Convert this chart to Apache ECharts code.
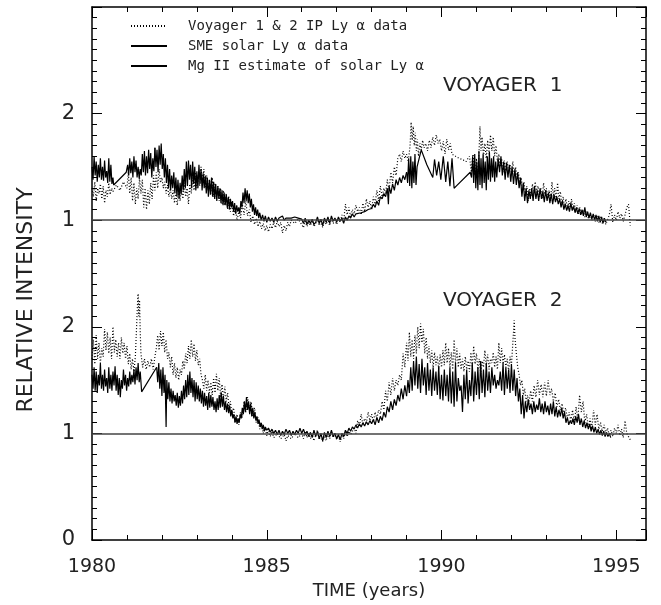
<!DOCTYPE html>
<html><head><meta charset="utf-8">
<script src="https://cdn.jsdelivr.net/npm/echarts@6/dist/echarts.min.js"></script>
<style>html,body{margin:0;padding:0;background:#fff}#c{width:661px;height:605px}</style>
</head><body><div id="c"></div>
<script>
// ---- data (years, relative intensity) ----
const xTicks = [1980, 1985, 1990, 1995];
const yTickLabels = ['0', '1', '2', '1', '2', ''];
const V1_OFFSET = 2;

const v1MgIIa = [[1980.00,1.50],[1980.03,1.38],[1980.06,1.60],[1980.09,1.42],[1980.12,1.55],[1980.15,1.36],[1980.18,1.52],[1980.21,1.40],[1980.24,1.58],[1980.27,1.38],[1980.30,1.50],[1980.33,1.37],[1980.36,1.56],[1980.39,1.40],[1980.42,1.46],[1980.45,1.35],[1980.48,1.58],[1980.51,1.36],[1980.54,1.52],[1980.57,1.34],[1980.60,1.40],[1980.62,1.33],[1980.98,1.45],[1981.02,1.52],[1981.05,1.42],[1981.08,1.58],[1981.11,1.44],[1981.14,1.55],[1981.17,1.40],[1981.20,1.60],[1981.23,1.45],[1981.26,1.56],[1981.29,1.40],[1981.32,1.50],[1981.35,1.39],[1981.38,1.48],[1981.41,1.42],[1981.44,1.62],[1981.47,1.45],[1981.50,1.65],[1981.53,1.42],[1981.56,1.60],[1981.59,1.44],[1981.62,1.66],[1981.65,1.48],[1981.68,1.63],[1981.71,1.40],[1981.74,1.58],[1981.77,1.46],[1981.80,1.68]];

const v1SME = [[1981.80,1.68],[1981.83,1.50],[1981.86,1.66],[1981.89,1.45],[1981.92,1.70],[1981.95,1.52],[1981.98,1.72],[1982.01,1.48],[1982.04,1.62],[1982.07,1.40],[1982.10,1.58],[1982.13,1.35],[1982.16,1.52],[1982.19,1.30],[1982.22,1.48],[1982.25,1.28],[1982.28,1.42],[1982.31,1.30],[1982.34,1.45],[1982.37,1.25],[1982.40,1.40],[1982.43,1.22],[1982.46,1.38],[1982.49,1.20],[1982.52,1.35],[1982.55,1.24],[1982.58,1.42],[1982.61,1.28],[1982.64,1.48],[1982.67,1.30],[1982.70,1.55],[1982.73,1.32],[1982.76,1.56],[1982.79,1.38],[1982.82,1.52],[1982.85,1.30],[1982.88,1.55],[1982.91,1.34],[1982.94,1.50],[1982.97,1.28],[1983.00,1.46],[1983.03,1.30],[1983.06,1.52],[1983.09,1.34],[1983.12,1.48],[1983.15,1.28],[1983.18,1.44],[1983.21,1.30],[1983.24,1.42],[1983.27,1.25],[1983.30,1.40],[1983.33,1.22],[1983.36,1.38],[1983.39,1.24],[1983.42,1.40],[1983.45,1.22],[1983.48,1.36],[1983.51,1.20],[1983.54,1.34],[1983.57,1.18],[1983.60,1.32],[1983.63,1.20],[1983.66,1.30],[1983.69,1.16],[1983.72,1.28],[1983.75,1.14],[1983.78,1.26],[1983.81,1.14],[1983.84,1.24],[1983.87,1.12],[1983.90,1.22],[1983.93,1.10],[1983.96,1.20],[1983.99,1.12],[1984.02,1.18],[1984.05,1.08],[1984.08,1.16],[1984.11,1.06],[1984.14,1.14],[1984.17,1.08],[1984.20,1.12],[1984.23,1.06],[1984.26,1.18],[1984.29,1.12],[1984.32,1.26],[1984.35,1.16],[1984.38,1.30],[1984.41,1.18],[1984.44,1.28],[1984.47,1.16],[1984.50,1.25],[1984.53,1.12],[1984.56,1.20],[1984.59,1.08],[1984.62,1.15],[1984.65,1.05],[1984.68,1.12],[1984.71,1.04],[1984.74,1.10],[1984.77,1.02],[1984.80,1.07],[1984.84,1.00],[1984.88,1.05],[1984.92,0.99],[1984.96,1.04],[1985.00,0.98],[1985.05,1.03],[1985.10,0.99],[1985.15,1.02],[1985.20,0.98],[1985.25,1.03],[1985.30,0.99],[1985.35,1.02],[1985.40,1.01],[1985.45,1.04],[1985.50,1.00],[1985.55,1.02],[1985.60,1.03],[1985.70,1.02],[1985.80,1.03],[1985.90,1.02],[1986.00,1.01],[1986.05,0.97],[1986.10,1.02],[1986.15,0.96],[1986.20,1.00],[1986.25,0.97],[1986.30,1.01],[1986.35,0.96],[1986.40,0.98],[1986.45,1.03],[1986.50,0.97],[1986.55,1.01],[1986.60,0.95],[1986.65,1.02],[1986.70,0.98],[1986.75,1.03],[1986.80,0.97],[1986.85,1.04],[1986.90,0.99],[1986.95,1.02],[1987.00,0.98],[1987.05,1.03],[1987.10,0.99],[1987.15,1.02],[1987.20,0.97],[1987.25,1.03],[1987.30,1.00],[1987.35,1.04],[1987.40,1.02],[1987.45,1.06],[1987.50,1.03],[1987.55,1.06],[1987.60,1.05],[1987.70,1.07],[1987.80,1.08],[1987.90,1.10],[1988.00,1.11],[1988.05,1.15],[1988.10,1.12],[1988.15,1.18],[1988.20,1.14],[1988.25,1.22],[1988.30,1.20],[1988.35,1.25],[1988.40,1.22],[1988.45,1.30],[1988.48,1.15],[1988.50,1.32],[1988.55,1.25],[1988.60,1.34],[1988.65,1.28],[1988.70,1.38],[1988.75,1.33],[1988.80,1.40],[1988.85,1.35],[1988.90,1.42],[1988.95,1.38],[1989.00,1.45]];

const v1MgIIb = [[1989.00,1.45],[1989.03,1.35],[1989.06,1.58],[1989.09,1.32],[1989.12,1.60],[1989.15,1.30],[1989.18,1.55],[1989.21,1.35],[1989.24,1.62],[1989.27,1.33],[1989.30,1.50],[1989.42,1.66],[1989.58,1.52],[1989.75,1.40],[1989.80,1.57],[1989.86,1.42],[1989.92,1.55],[1989.98,1.38],[1990.05,1.60],[1990.12,1.36],[1990.18,1.55],[1990.24,1.32],[1990.30,1.58],[1990.36,1.30],[1990.42,1.32],[1990.82,1.45],[1990.86,1.40],[1990.89,1.60],[1990.92,1.35],[1990.95,1.62],[1990.98,1.30],[1991.01,1.55],[1991.04,1.28],[1991.07,1.65],[1991.10,1.33],[1991.13,1.58],[1991.16,1.30],[1991.19,1.62],[1991.22,1.35],[1991.25,1.55],[1991.28,1.28],[1991.31,1.60],[1991.34,1.38],[1991.37,1.64],[1991.40,1.36],[1991.43,1.58],[1991.46,1.40],[1991.49,1.60],[1991.52,1.36],[1991.55,1.55],[1991.58,1.40],[1991.62,1.58],[1991.66,1.45],[1991.70,1.60],[1991.74,1.42],[1991.78,1.55],[1991.82,1.38],[1991.86,1.54],[1991.90,1.40],[1991.94,1.52],[1991.98,1.36],[1992.02,1.50],[1992.06,1.34],[1992.10,1.48],[1992.14,1.33],[1992.18,1.45],[1992.22,1.30],[1992.26,1.40],[1992.30,1.22],[1992.34,1.35],[1992.38,1.18],[1992.42,1.30],[1992.46,1.16],[1992.50,1.28],[1992.54,1.20],[1992.58,1.30],[1992.62,1.18],[1992.66,1.32],[1992.70,1.20],[1992.74,1.28],[1992.78,1.18],[1992.82,1.30],[1992.86,1.20],[1992.90,1.27],[1992.94,1.17],[1992.98,1.28],[1993.02,1.18],[1993.06,1.26],[1993.10,1.16],[1993.14,1.25],[1993.18,1.15],[1993.22,1.24],[1993.26,1.17],[1993.30,1.22],[1993.34,1.15],[1993.38,1.20],[1993.42,1.12],[1993.46,1.18],[1993.50,1.10],[1993.54,1.15],[1993.58,1.09],[1993.62,1.14],[1993.66,1.08],[1993.70,1.16],[1993.74,1.09],[1993.78,1.13],[1993.82,1.07],[1993.86,1.12],[1993.90,1.06],[1993.94,1.11],[1993.98,1.05],[1994.02,1.10],[1994.06,1.04],[1994.10,1.12],[1994.14,1.03],[1994.18,1.08],[1994.22,1.02],[1994.26,1.07],[1994.30,1.01],[1994.34,1.06],[1994.38,1.00],[1994.42,1.05],[1994.46,0.99],[1994.50,1.04],[1994.54,0.98],[1994.58,1.03],[1994.62,0.97],[1994.66,1.02],[1994.70,0.98]];

const v1IP = [[1980.00,1.30],[1980.04,1.22],[1980.08,1.36],[1980.12,1.18],[1980.16,1.30],[1980.20,1.25],[1980.24,1.34],[1980.28,1.20],[1980.32,1.32],[1980.36,1.16],[1980.40,1.28],[1980.44,1.22],[1980.48,1.35],[1980.52,1.24],[1980.56,1.30],[1980.60,1.27],[1980.70,1.33],[1980.80,1.28],[1980.90,1.36],[1981.00,1.30],[1981.04,1.45],[1981.08,1.25],[1981.12,1.40],[1981.16,1.18],[1981.20,1.35],[1981.24,1.15],[1981.28,1.30],[1981.32,1.20],[1981.36,1.40],[1981.40,1.25],[1981.44,1.38],[1981.48,1.12],[1981.52,1.30],[1981.56,1.10],[1981.60,1.28],[1981.64,1.15],[1981.68,1.35],[1981.72,1.20],[1981.76,1.42],[1981.80,1.28],[1981.84,1.45],[1981.88,1.30],[1981.92,1.48],[1981.96,1.35],[1982.00,1.40],[1982.04,1.30],[1982.08,1.36],[1982.12,1.25],[1982.16,1.33],[1982.20,1.22],[1982.24,1.30],[1982.28,1.20],[1982.32,1.28],[1982.36,1.16],[1982.40,1.26],[1982.44,1.14],[1982.48,1.30],[1982.52,1.18],[1982.56,1.32],[1982.60,1.20],[1982.64,1.35],[1982.68,1.22],[1982.72,1.30],[1982.76,1.15],[1982.80,1.34],[1982.84,1.25],[1982.88,1.40],[1982.92,1.28],[1982.96,1.45],[1983.00,1.30],[1983.04,1.42],[1983.08,1.32],[1983.12,1.50],[1983.16,1.35],[1983.20,1.48],[1983.24,1.30],[1983.28,1.42],[1983.32,1.28],[1983.36,1.38],[1983.40,1.25],[1983.44,1.40],[1983.48,1.22],[1983.52,1.35],[1983.56,1.20],[1983.60,1.32],[1983.64,1.18],[1983.68,1.30],[1983.72,1.15],[1983.76,1.28],[1983.80,1.14],[1983.84,1.25],[1983.88,1.10],[1983.92,1.22],[1983.96,1.08],[1984.00,1.18],[1984.05,1.04],[1984.10,1.12],[1984.15,1.00],[1984.20,1.08],[1984.25,1.02],[1984.30,1.15],[1984.35,1.05],[1984.40,1.18],[1984.45,1.04],[1984.50,1.10],[1984.55,0.98],[1984.60,1.04],[1984.65,0.96],[1984.70,1.02],[1984.75,0.94],[1984.80,0.99],[1984.85,0.92],[1984.90,0.97],[1984.95,0.90],[1985.00,0.95],[1985.05,0.89],[1985.10,0.96],[1985.15,0.92],[1985.20,0.98],[1985.25,0.93],[1985.30,0.99],[1985.35,0.94],[1985.40,0.98],[1985.45,0.88],[1985.50,0.95],[1985.55,0.90],[1985.60,0.98],[1985.65,0.94],[1985.70,1.00],[1985.80,0.97],[1985.90,1.01],[1986.00,0.96],[1986.05,0.93],[1986.10,0.99],[1986.15,0.94],[1986.20,0.98],[1986.25,0.95],[1986.30,1.00],[1986.35,0.94],[1986.40,0.97],[1986.45,1.01],[1986.50,0.95],[1986.55,0.99],[1986.60,0.93],[1986.65,1.00],[1986.70,0.96],[1986.75,1.01],[1986.80,0.95],[1986.85,1.02],[1986.90,0.97],[1986.95,1.00],[1987.00,0.96],[1987.05,1.02],[1987.10,0.98],[1987.15,1.05],[1987.20,0.99],[1987.25,1.15],[1987.30,1.05],[1987.35,1.12],[1987.40,1.03],[1987.45,1.10],[1987.50,1.06],[1987.55,1.14],[1987.60,1.08],[1987.65,1.12],[1987.70,1.05],[1987.75,1.16],[1987.80,1.08],[1987.85,1.20],[1987.90,1.12],[1987.95,1.18],[1988.00,1.10],[1988.05,1.22],[1988.10,1.15],[1988.15,1.28],[1988.20,1.18],[1988.25,1.32],[1988.30,1.22],[1988.35,1.30],[1988.40,1.25],[1988.45,1.38],[1988.50,1.28],[1988.55,1.45],[1988.60,1.35],[1988.65,1.50],[1988.70,1.42],[1988.75,1.58],[1988.80,1.62],[1988.85,1.55],[1988.90,1.65],[1988.95,1.58],[1989.00,1.62],[1989.05,1.55],[1989.10,1.70],[1989.13,1.92],[1989.16,1.75],[1989.19,1.88],[1989.22,1.70],[1989.25,1.82],[1989.28,1.65],[1989.31,1.76],[1989.34,1.60],[1989.38,1.72],[1989.42,1.66],[1989.46,1.75],[1989.50,1.68],[1989.55,1.72],[1989.60,1.65],[1989.65,1.75],[1989.70,1.68],[1989.75,1.78],[1989.80,1.70],[1989.85,1.80],[1989.90,1.72],[1989.95,1.76],[1990.00,1.65],[1990.05,1.74],[1990.10,1.62],[1990.15,1.76],[1990.20,1.66],[1990.25,1.72],[1990.30,1.62],[1990.40,1.60],[1990.50,1.58],[1990.60,1.57],[1990.70,1.55],[1990.80,1.60],[1990.85,1.45],[1990.90,1.62],[1990.95,1.42],[1991.00,1.58],[1991.04,1.40],[1991.08,1.70],[1991.10,1.88],[1991.13,1.65],[1991.16,1.78],[1991.20,1.60],[1991.24,1.72],[1991.28,1.58],[1991.32,1.75],[1991.36,1.62],[1991.40,1.80],[1991.44,1.65],[1991.48,1.78],[1991.52,1.60],[1991.56,1.70],[1991.60,1.55],[1991.64,1.62],[1991.68,1.50],[1991.72,1.58],[1991.76,1.45],[1991.80,1.56],[1991.84,1.46],[1991.88,1.55],[1991.92,1.44],[1991.96,1.52],[1992.00,1.45],[1992.04,1.55],[1992.08,1.43],[1992.12,1.50],[1992.16,1.40],[1992.20,1.45],[1992.24,1.35],[1992.28,1.40],[1992.32,1.28],[1992.36,1.36],[1992.40,1.22],[1992.44,1.32],[1992.48,1.18],[1992.52,1.30],[1992.56,1.22],[1992.60,1.34],[1992.64,1.24],[1992.68,1.36],[1992.72,1.26],[1992.76,1.32],[1992.80,1.22],[1992.84,1.30],[1992.88,1.20],[1992.92,1.35],[1992.96,1.24],[1993.00,1.30],[1993.04,1.20],[1993.08,1.28],[1993.12,1.18],[1993.16,1.36],[1993.20,1.22],[1993.24,1.30],[1993.28,1.18],[1993.32,1.35],[1993.36,1.20],[1993.40,1.27],[1993.44,1.15],[1993.48,1.22],[1993.52,1.12],[1993.56,1.20],[1993.60,1.10],[1993.64,1.18],[1993.68,1.12],[1993.72,1.20],[1993.76,1.10],[1993.80,1.16],[1993.84,1.08],[1993.88,1.14],[1993.92,1.06],[1993.96,1.12],[1994.00,1.05],[1994.05,1.10],[1994.10,1.03],[1994.15,1.08],[1994.20,1.02],[1994.25,1.06],[1994.30,1.00],[1994.35,1.05],[1994.40,0.99],[1994.45,1.04],[1994.50,0.98],[1994.55,1.03],[1994.60,0.97],[1994.65,1.02],[1994.70,0.96],[1994.80,1.05],[1994.85,1.15],[1994.90,0.98],[1994.95,1.05],[1995.00,1.00],[1995.05,1.08],[1995.10,1.02],[1995.15,1.06],[1995.20,0.99],[1995.25,1.05],[1995.30,1.12],[1995.35,1.15],[1995.40,0.95]];

const v2MgIIa = [[1980.00,1.55],[1980.03,1.42],[1980.06,1.62],[1980.09,1.40],[1980.12,1.58],[1980.15,1.38],[1980.18,1.55],[1980.21,1.45],[1980.24,1.66],[1980.27,1.42],[1980.30,1.55],[1980.33,1.40],[1980.36,1.60],[1980.39,1.44],[1980.42,1.52],[1980.45,1.38],[1980.48,1.62],[1980.51,1.42],[1980.54,1.55],[1980.57,1.40],[1980.60,1.58],[1980.63,1.45],[1980.66,1.63],[1980.69,1.40],[1980.72,1.55],[1980.75,1.36],[1980.78,1.52],[1980.81,1.34],[1980.84,1.50],[1980.87,1.42],[1980.90,1.60],[1980.93,1.45],[1980.96,1.55],[1980.99,1.40],[1981.02,1.52],[1981.05,1.44],[1981.08,1.58],[1981.11,1.46],[1981.14,1.55],[1981.17,1.48],[1981.20,1.60],[1981.23,1.46],[1981.26,1.62],[1981.29,1.50],[1981.32,1.66],[1981.35,1.48],[1981.38,1.58],[1981.42,1.39],[1981.85,1.62]];

const v2SME = [[1981.85,1.62],[1981.88,1.48],[1981.91,1.66],[1981.94,1.42],[1981.97,1.60],[1982.00,1.35],[1982.03,1.62],[1982.06,1.38],[1982.09,1.55],[1982.12,1.06],[1982.14,1.50],[1982.17,1.32],[1982.20,1.48],[1982.23,1.30],[1982.26,1.42],[1982.29,1.28],[1982.32,1.40],[1982.35,1.30],[1982.38,1.36],[1982.41,1.26],[1982.44,1.38],[1982.47,1.24],[1982.50,1.35],[1982.53,1.26],[1982.56,1.40],[1982.59,1.28],[1982.62,1.45],[1982.65,1.32],[1982.68,1.50],[1982.71,1.34],[1982.74,1.55],[1982.77,1.36],[1982.80,1.58],[1982.83,1.38],[1982.86,1.52],[1982.89,1.34],[1982.92,1.50],[1982.95,1.30],[1982.98,1.48],[1983.01,1.32],[1983.04,1.45],[1983.07,1.30],[1983.10,1.42],[1983.13,1.28],[1983.16,1.40],[1983.19,1.25],[1983.22,1.38],[1983.25,1.26],[1983.28,1.35],[1983.31,1.22],[1983.34,1.38],[1983.37,1.24],[1983.40,1.36],[1983.43,1.25],[1983.46,1.34],[1983.49,1.22],[1983.52,1.30],[1983.55,1.20],[1983.58,1.33],[1983.61,1.22],[1983.64,1.36],[1983.67,1.24],[1983.70,1.38],[1983.73,1.25],[1983.76,1.35],[1983.79,1.22],[1983.82,1.30],[1983.85,1.20],[1983.88,1.28],[1983.91,1.19],[1983.94,1.26],[1983.97,1.16],[1984.00,1.22],[1984.03,1.14],[1984.06,1.18],[1984.09,1.10],[1984.12,1.16],[1984.15,1.09],[1984.18,1.14],[1984.21,1.10],[1984.24,1.18],[1984.27,1.14],[1984.30,1.24],[1984.33,1.18],[1984.36,1.30],[1984.39,1.20],[1984.42,1.34],[1984.45,1.22],[1984.48,1.30],[1984.51,1.18],[1984.54,1.28],[1984.57,1.16],[1984.60,1.24],[1984.63,1.14],[1984.66,1.20],[1984.69,1.12],[1984.72,1.16],[1984.75,1.09],[1984.78,1.13],[1984.81,1.06],[1984.84,1.10],[1984.87,1.04],[1984.90,1.08],[1984.93,1.02],[1984.96,1.06],[1985.00,1.03],[1985.05,1.05],[1985.10,1.01],[1985.15,1.04],[1985.20,1.00],[1985.25,1.03],[1985.30,0.99],[1985.35,1.03],[1985.40,0.98],[1985.45,1.02],[1985.50,0.99],[1985.55,1.04],[1985.60,1.00],[1985.65,1.03],[1985.70,0.98],[1985.75,1.02],[1985.80,0.99],[1985.85,1.03],[1985.90,1.00],[1985.95,1.05],[1986.00,1.00],[1986.05,1.04],[1986.10,0.99],[1986.15,1.02],[1986.20,0.97],[1986.25,1.01],[1986.30,0.96],[1986.35,1.03],[1986.40,0.97],[1986.45,1.02],[1986.50,0.95],[1986.55,1.00],[1986.60,0.93],[1986.65,1.01],[1986.70,0.96],[1986.75,1.02],[1986.80,0.97],[1986.85,1.03],[1986.90,0.97],[1986.95,1.00],[1987.00,0.95],[1987.05,0.99],[1987.10,0.94],[1987.15,1.00],[1987.20,0.97],[1987.25,1.03],[1987.30,1.00],[1987.35,1.05],[1987.40,1.02],[1987.45,1.06],[1987.50,1.04],[1987.55,1.08],[1987.60,1.05],[1987.65,1.09],[1987.70,1.06],[1987.75,1.10],[1987.80,1.07],[1987.85,1.11],[1987.90,1.08],[1987.95,1.12],[1988.00,1.09],[1988.05,1.13],[1988.10,1.08],[1988.15,1.15],[1988.20,1.10],[1988.25,1.16],[1988.30,1.12],[1988.35,1.20],[1988.40,1.15],[1988.45,1.25],[1988.50,1.20],[1988.55,1.30],[1988.60,1.22],[1988.65,1.32],[1988.70,1.26],[1988.75,1.36],[1988.80,1.30],[1988.85,1.42],[1988.90,1.32],[1988.95,1.45],[1989.00,1.35]];

const v2MgIIb = [[1989.00,1.35],[1989.04,1.50],[1989.08,1.38],[1989.12,1.62],[1989.16,1.40],[1989.20,1.68],[1989.24,1.45],[1989.28,1.72],[1989.32,1.42],[1989.36,1.65],[1989.40,1.38],[1989.44,1.70],[1989.48,1.45],[1989.52,1.62],[1989.56,1.36],[1989.60,1.66],[1989.64,1.40],[1989.68,1.60],[1989.72,1.35],[1989.76,1.62],[1989.80,1.40],[1989.84,1.58],[1989.88,1.36],[1989.92,1.63],[1989.96,1.32],[1990.00,1.55],[1990.04,1.31],[1990.08,1.60],[1990.12,1.35],[1990.16,1.55],[1990.20,1.30],[1990.24,1.62],[1990.28,1.28],[1990.32,1.58],[1990.36,1.25],[1990.40,1.66],[1990.44,1.30],[1990.48,1.52],[1990.52,1.40],[1990.56,1.45],[1990.60,1.20],[1990.64,1.55],[1990.68,1.32],[1990.72,1.60],[1990.76,1.28],[1990.80,1.50],[1990.84,1.35],[1990.88,1.66],[1990.92,1.30],[1990.96,1.58],[1991.00,1.36],[1991.04,1.62],[1991.08,1.32],[1991.12,1.68],[1991.16,1.38],[1991.20,1.60],[1991.24,1.34],[1991.28,1.66],[1991.32,1.40],[1991.36,1.58],[1991.40,1.38],[1991.44,1.62],[1991.48,1.45],[1991.52,1.55],[1991.56,1.42],[1991.60,1.50],[1991.64,1.45],[1991.68,1.58],[1991.72,1.40],[1991.76,1.66],[1991.80,1.36],[1991.84,1.62],[1991.88,1.42],[1991.92,1.60],[1991.96,1.38],[1992.00,1.65],[1992.04,1.40],[1992.08,1.60],[1992.12,1.35],[1992.16,1.52],[1992.20,1.30],[1992.24,1.42],[1992.28,1.18],[1992.32,1.36],[1992.36,1.14],[1992.40,1.30],[1992.44,1.20],[1992.48,1.32],[1992.52,1.22],[1992.56,1.28],[1992.60,1.18],[1992.64,1.30],[1992.68,1.20],[1992.72,1.27],[1992.76,1.22],[1992.80,1.33],[1992.84,1.20],[1992.88,1.28],[1992.92,1.18],[1992.96,1.30],[1993.00,1.20],[1993.04,1.26],[1993.08,1.17],[1993.12,1.28],[1993.16,1.18],[1993.20,1.30],[1993.24,1.16],[1993.28,1.25],[1993.32,1.15],[1993.36,1.22],[1993.40,1.16],[1993.44,1.24],[1993.48,1.14],[1993.52,1.20],[1993.56,1.10],[1993.60,1.15],[1993.64,1.08],[1993.68,1.12],[1993.72,1.09],[1993.76,1.14],[1993.80,1.08],[1993.84,1.16],[1993.88,1.10],[1993.92,1.18],[1993.96,1.08],[1994.00,1.14],[1994.04,1.06],[1994.08,1.12],[1994.12,1.05],[1994.16,1.10],[1994.20,1.04],[1994.24,1.09],[1994.28,1.02],[1994.32,1.07],[1994.36,1.01],[1994.40,1.06],[1994.44,1.00],[1994.48,1.04],[1994.52,0.99],[1994.56,1.03],[1994.60,0.98],[1994.64,1.02],[1994.68,0.97],[1994.72,1.01],[1994.76,0.97],[1994.80,1.00],[1994.84,0.96]];

const v2IP = [[1980.00,1.70],[1980.04,1.88],[1980.08,1.65],[1980.12,1.92],[1980.16,1.70],[1980.20,1.85],[1980.24,1.66],[1980.28,1.80],[1980.32,1.72],[1980.36,1.98],[1980.40,1.78],[1980.44,1.95],[1980.48,1.75],[1980.52,1.90],[1980.56,1.70],[1980.60,2.00],[1980.64,1.76],[1980.68,1.88],[1980.72,1.72],[1980.76,1.85],[1980.80,1.70],[1980.84,1.90],[1980.88,1.75],[1980.92,1.85],[1980.96,1.70],[1981.00,1.82],[1981.04,1.65],[1981.08,1.75],[1981.12,1.60],[1981.16,1.70],[1981.20,1.58],[1981.24,1.72],[1981.27,1.95],[1981.30,2.20],[1981.32,2.31],[1981.34,2.10],[1981.36,2.25],[1981.38,1.95],[1981.40,1.75],[1981.45,1.62],[1981.50,1.70],[1981.55,1.60],[1981.60,1.68],[1981.65,1.62],[1981.70,1.70],[1981.75,1.60],[1981.80,1.72],[1981.84,1.80],[1981.88,1.92],[1981.92,1.78],[1981.96,1.96],[1982.00,1.82],[1982.04,1.95],[1982.08,1.76],[1982.12,1.88],[1982.16,1.70],[1982.20,1.76],[1982.24,1.62],[1982.28,1.72],[1982.32,1.55],[1982.36,1.66],[1982.40,1.52],[1982.44,1.62],[1982.48,1.50],[1982.52,1.60],[1982.56,1.55],[1982.60,1.68],[1982.64,1.60],[1982.68,1.75],[1982.72,1.66],[1982.76,1.82],[1982.80,1.70],[1982.84,1.88],[1982.88,1.72],[1982.92,1.84],[1982.96,1.68],[1983.00,1.78],[1983.04,1.64],[1983.08,1.70],[1983.12,1.55],[1983.16,1.50],[1983.20,1.42],[1983.24,1.55],[1983.28,1.40],[1983.32,1.50],[1983.36,1.38],[1983.40,1.48],[1983.44,1.36],[1983.48,1.52],[1983.52,1.38],[1983.56,1.56],[1983.60,1.40],[1983.64,1.52],[1983.68,1.34],[1983.72,1.46],[1983.76,1.32],[1983.80,1.44],[1983.84,1.30],[1983.88,1.38],[1983.92,1.24],[1983.96,1.30],[1984.00,1.18],[1984.05,1.24],[1984.10,1.10],[1984.15,1.18],[1984.20,1.08],[1984.25,1.20],[1984.30,1.15],[1984.35,1.30],[1984.40,1.20],[1984.45,1.34],[1984.50,1.22],[1984.55,1.30],[1984.60,1.16],[1984.65,1.24],[1984.70,1.10],[1984.75,1.15],[1984.80,1.04],[1984.85,1.10],[1984.90,1.00],[1984.95,1.06],[1985.00,0.98],[1985.05,1.04],[1985.10,0.97],[1985.15,1.02],[1985.20,0.96],[1985.30,1.00],[1985.40,0.95],[1985.50,0.99],[1985.55,0.93],[1985.60,0.98],[1985.70,0.95],[1985.80,1.00],[1985.90,0.96],[1986.00,1.00],[1986.05,0.95],[1986.10,1.02],[1986.15,0.96],[1986.20,1.01],[1986.25,0.95],[1986.30,0.99],[1986.35,0.93],[1986.40,0.98],[1986.45,1.03],[1986.50,0.94],[1986.55,0.99],[1986.60,0.92],[1986.65,0.97],[1986.70,0.93],[1986.75,1.00],[1986.80,0.95],[1986.85,1.02],[1986.90,0.96],[1986.95,1.00],[1987.00,0.94],[1987.05,0.98],[1987.10,0.92],[1987.15,0.97],[1987.20,0.95],[1987.25,1.01],[1987.30,0.97],[1987.35,1.02],[1987.40,0.99],[1987.50,1.05],[1987.55,1.00],[1987.60,1.12],[1987.65,1.06],[1987.70,1.18],[1987.75,1.08],[1987.80,1.14],[1987.85,1.10],[1987.90,1.20],[1987.95,1.12],[1988.00,1.18],[1988.05,1.11],[1988.10,1.20],[1988.15,1.14],[1988.20,1.22],[1988.25,1.18],[1988.30,1.30],[1988.35,1.22],[1988.40,1.40],[1988.45,1.30],[1988.50,1.48],[1988.55,1.36],[1988.60,1.52],[1988.65,1.40],[1988.70,1.50],[1988.75,1.45],[1988.80,1.55],[1988.85,1.50],[1988.90,1.75],[1988.95,1.62],[1989.00,1.85],[1989.04,1.68],[1989.08,1.95],[1989.12,1.72],[1989.16,1.88],[1989.20,1.70],[1989.24,1.92],[1989.28,1.75],[1989.32,2.00],[1989.36,1.80],[1989.40,2.03],[1989.44,1.85],[1989.48,1.98],[1989.52,1.75],[1989.56,1.90],[1989.60,1.70],[1989.64,1.82],[1989.68,1.66],[1989.72,1.78],[1989.76,1.62],[1989.80,1.76],[1989.84,1.64],[1989.88,1.72],[1989.92,1.60],[1989.96,1.74],[1990.00,1.62],[1990.04,1.78],[1990.08,1.64],[1990.12,1.85],[1990.16,1.66],[1990.20,1.80],[1990.24,1.62],[1990.28,1.76],[1990.32,1.60],[1990.36,1.88],[1990.40,1.65],[1990.44,1.80],[1990.48,1.62],[1990.52,1.75],[1990.56,1.60],[1990.60,1.70],[1990.64,1.58],[1990.68,1.72],[1990.72,1.60],[1990.76,1.68],[1990.80,1.58],[1990.84,1.76],[1990.88,1.62],[1990.92,1.82],[1990.96,1.65],[1991.00,1.75],[1991.04,1.60],[1991.08,1.70],[1991.12,1.56],[1991.16,1.68],[1991.20,1.62],[1991.24,1.78],[1991.28,1.64],[1991.32,1.74],[1991.36,1.60],[1991.40,1.70],[1991.44,1.66],[1991.48,1.76],[1991.52,1.62],[1991.56,1.72],[1991.60,1.60],[1991.64,1.85],[1991.68,1.66],[1991.72,1.80],[1991.76,1.65],[1991.80,1.74],[1991.84,1.62],[1991.88,1.70],[1991.92,1.58],[1991.96,1.72],[1992.00,1.64],[1992.04,1.85],[1992.08,2.06],[1992.10,1.90],[1992.14,1.75],[1992.18,1.62],[1992.22,1.55],[1992.26,1.45],[1992.30,1.50],[1992.34,1.36],[1992.38,1.42],[1992.42,1.30],[1992.46,1.36],[1992.50,1.28],[1992.55,1.40],[1992.60,1.30],[1992.65,1.45],[1992.70,1.34],[1992.75,1.50],[1992.80,1.36],[1992.85,1.46],[1992.90,1.34],[1992.95,1.48],[1993.00,1.35],[1993.05,1.50],[1993.10,1.36],[1993.15,1.42],[1993.20,1.30],[1993.25,1.38],[1993.30,1.25],[1993.35,1.32],[1993.40,1.22],[1993.45,1.28],[1993.50,1.18],[1993.55,1.24],[1993.60,1.14],[1993.65,1.20],[1993.70,1.12],[1993.75,1.22],[1993.80,1.10],[1993.85,1.25],[1993.90,1.12],[1993.95,1.36],[1994.00,1.20],[1994.05,1.30],[1994.10,1.10],[1994.15,1.18],[1994.20,1.06],[1994.25,1.14],[1994.30,1.04],[1994.35,1.22],[1994.40,1.08],[1994.45,1.18],[1994.50,1.04],[1994.55,1.10],[1994.60,1.02],[1994.65,1.08],[1994.70,1.00],[1994.75,1.05],[1994.80,0.98],[1994.85,1.03],[1994.90,0.97],[1994.95,1.05],[1995.00,1.00],[1995.05,1.08],[1995.10,0.98],[1995.15,1.04],[1995.20,0.96],[1995.25,1.12],[1995.30,1.00],[1995.35,0.97],[1995.40,0.94]];

// ---- chart ----
const FONT = 'DejaVu Sans';
const TXT = '#222';
const shift = (arr, off) => arr.map(p => [p[0], p[1] + off]);
const NAME_IP = 'Voyager 1 & 2 IP Ly α data';
const NAME_SME = 'SME solar Ly α data';
const NAME_MG = 'Mg II estimate of solar Ly α';

const chart = echarts.init(document.getElementById('c'), null, {renderer: 'canvas'});
const XMIN = 1980, XMAX = 1995.85;
const axLine = {show: true, lineStyle: {color: '#000', width: 1.5}};
function xAx(pos, interval, len, showLine, showLabel) {
  return {
    type: 'value', position: pos, min: XMIN, max: XMAX, interval: interval,
    axisLine: showLine ? axLine : {show: false},
    axisTick: {show: true, inside: true, length: len, lineStyle: {color: '#000', width: 1}},
    splitLine: {show: false},
    axisLabel: showLabel ? {
      show: true, margin: 18, color: TXT, fontFamily: FONT, fontSize: 19,
      formatter: v => (xTicks.indexOf(v) >= 0 ? String(v) : '')
    } : {show: false}
  };
}
const dotted = {color: '#000', width: 1.2, type: [1, 2]};
const solid = {color: '#000', width: 1.2};
function line(name, data, style, extra) {
  return Object.assign({
    type: 'line', name: name, data: data, showSymbol: false, symbol: 'none',
    lineStyle: style, itemStyle: {color: '#000'}, animation: false, silent: true, z: 3
  }, extra || {});
}

chart.setOption({
  animation: false,
  backgroundColor: '#fff',
  grid: {left: 92, right: 15, top: 7, bottom: 65},
  legend: {
    orient: 'vertical', left: 125, top: 11, itemWidth: 36, itemHeight: 20, itemGap: 0,
    selectedMode: false,
    itemStyle: {opacity: 0},
    textStyle: {fontFamily: 'DejaVu Sans Mono', fontSize: 14, lineHeight: 14, color: TXT, padding: [0, 0, 6, 16]},
    data: [{name: NAME_IP}, {name: NAME_SME}, {name: NAME_MG}]
  },
  xAxis: [
    Object.assign(xAx('bottom', 5, 10, true, true), {
      name: 'TIME (years)', nameLocation: 'middle', nameGap: 36,
      nameTextStyle: {fontFamily: FONT, fontSize: 18, color: TXT}
    }),
    xAx('bottom', 1, 5, false, false),
    xAx('top', 5, 10, true, false),
    xAx('top', 1, 5, false, false)
  ],
  yAxis: [
    {
      type: 'value', position: 'left', min: 0, max: 5, interval: 1,
      axisLine: axLine, splitLine: {show: false},
      axisTick: {show: true, inside: true, length: 10, lineStyle: {color: '#000'}},
      minorTick: {show: true, splitNumber: 10, length: 5, lineStyle: {color: '#000'}},
      axisLabel: {margin: 17, color: TXT, fontFamily: FONT, fontSize: 21,
        formatter: v => yTickLabels[Math.round(v)] || ''}
    },
    {
      type: 'value', position: 'right', min: 0, max: 5, interval: 1,
      axisLine: axLine, splitLine: {show: false},
      axisTick: {show: true, inside: true, length: 10, lineStyle: {color: '#000'}},
      minorTick: {show: true, splitNumber: 10, length: 5, lineStyle: {color: '#000'}},
      axisLabel: {show: false}
    }
  ],
  graphic: [
    {type: 'text', left: 443, top: 76, style: {text: 'VOYAGER  1', font: '20px "DejaVu Sans"', fill: TXT}},
    {type: 'text', left: 443, top: 291, style: {text: 'VOYAGER  2', font: '20px "DejaVu Sans"', fill: TXT}},
    {type: 'text', x: 26, y: 300, rotation: Math.PI / 2,
      style: {text: 'RELATIVE INTENSITY', font: '22px "DejaVu Sans"', fill: TXT, align: 'center', verticalAlign: 'middle'}}
  ],
  series: [
    line(NAME_IP, shift(v1IP, V1_OFFSET), dotted),
    line(NAME_IP, v2IP, dotted),
    line(NAME_SME, shift(v1SME, V1_OFFSET), solid),
    line(NAME_SME, v2SME, solid),
    line(NAME_MG, shift(v1MgIIa, V1_OFFSET), solid),
    line(NAME_MG, shift(v1MgIIb, V1_OFFSET), solid),
    line(NAME_MG, v2MgIIa, solid),
    line(NAME_MG, v2MgIIb, solid, {
      markLine: {
        silent: true, symbol: 'none', label: {show: false},
        lineStyle: {color: '#444', width: 1.5, type: 'solid'},
        data: [{yAxis: 1}, {yAxis: 1 + V1_OFFSET}]
      }
    })
  ]
});
</script>
</body></html>
